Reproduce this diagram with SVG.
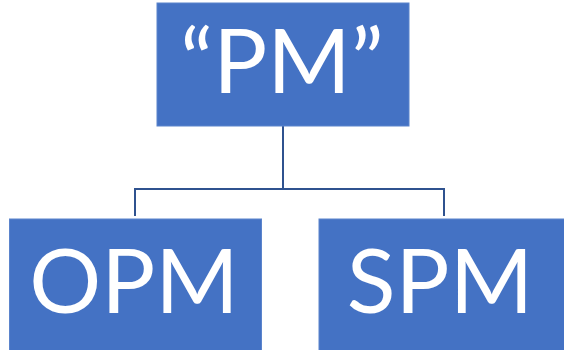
<svg xmlns="http://www.w3.org/2000/svg" width="564" height="350" viewBox="0 0 564 350">
<style>
.box{fill:#4472C4;stroke:#5B84CC;stroke-width:1}
.lbl{fill:#FFFFFF;font-family:Lato,"Open Sans",sans-serif;font-size:90px;text-anchor:middle}
.conn{fill:none;stroke:#2F528F;stroke-width:2}
</style>
<g id="connectors">
<path class="conn" d="M283,126 V189 M135,216 V189 H444 V216"/>
</g>
<g id="pm">
<rect class="box" x="157" y="3" width="252" height="123"/>
<text class="lbl" x="282" y="93">“PM”</text>
</g>
<g id="opm">
<rect class="box" x="9.5" y="219" width="252" height="132"/>
<text class="lbl" x="134" y="313">OPM</text>
</g>
<g id="spm">
<rect class="box" x="319" y="219" width="246" height="132"/>
<text class="lbl" x="440" y="313">SPM</text>
</g>
</svg>
